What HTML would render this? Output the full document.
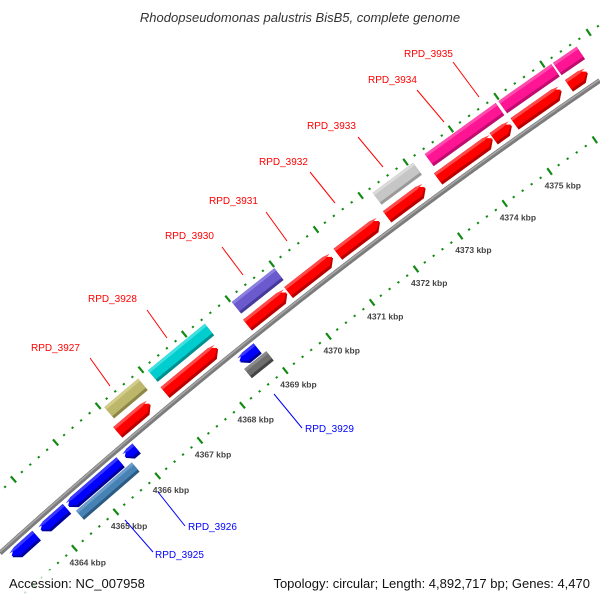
<!DOCTYPE html>
<html><head><meta charset="utf-8">
<style>
html,body{margin:0;padding:0;background:#fff;width:600px;height:600px;overflow:hidden;}
svg{display:block;font-family:"Liberation Sans",sans-serif;overflow:hidden;}
</style></head>
<body>
<svg id="chart" width="600" height="600" viewBox="0 0 600 600">
  <g id="rulers"></g>
  <g id="backbone"></g>
  <g id="features"></g>
  <g id="labels"></g>
  <text x="300" y="22" text-anchor="middle" font-size="13" font-style="italic" fill="#333">Rhodopseudomonas palustris BisB5, complete genome</text>
  <rect x="0" y="570" width="600" height="30" fill="#fff" opacity="0.75"/>
  <text x="9" y="588" font-size="13" fill="#111">Accession: NC_007958</text>
  <text x="590" y="588" font-size="13" fill="#111" text-anchor="end">Topology: circular; Length: 4,892,717 bp; Genes: 4,470</text>
</svg>
<script>
// ---- data ----
const kbpTicks = [4362,4363,4364,4365,4366,4367,4368,4369,4370,4371,4372,4373,4374,4375,4376,4377,4378];
const tickLabels = ["4364 kbp","4365 kbp","4366 kbp","4367 kbp","4368 kbp","4369 kbp","4370 kbp","4371 kbp","4372 kbp","4373 kbp","4374 kbp","4375 kbp"];
const tickLabelPos = [4364,4365,4366,4367,4368,4369,4370,4371,4372,4373,4374,4375];
// forward genes (red)
const fwdStart = [4365.96,4367.07,4368.98,4369.92,4371.04,4372.15,4373.29,4374.52,4374.98,4376.17];
const fwdEnd   = [4366.73,4368.30,4369.89,4370.93,4371.99,4373.01,4374.50,4374.92,4376.01,4376.58];
// reverse genes (blue)
const revStart = [4363.06,4363.76,4364.42,4365.77,4368.46];
const revEnd   = [4363.64,4364.37,4365.65,4366.03,4368.86];
// upper hit track
const hitUpStart = [4366.07,4367.09,4369.02,4372.20,4373.36,4374.98,4376.17];
const hitUpEnd   = [4366.86,4368.40,4369.99,4373.10,4374.92,4376.13,4376.68];
const hitUpColor = ["khaki","cyan","purple","gray","pink","pink","pink"];
// lower hit track
const hitLoStart = [4364.47,4368.44];
const hitLoEnd   = [4365.80,4368.95];
const hitLoColor = ["steel","dark"];

const CX=3758, CY=4705;
const PAL={
  red:["#ff0000","#b80000","#ff4a4a"], blue:["#0000ff","#00009a","#3a3aff"],
  khaki:["#bdb76b","#8c8748","#d2cd8a"], cyan:["#00cdcd","#008f8f","#40e0e0"],
  purple:["#6a5acd","#47399a","#8a7ee0"], gray:["#c6c6c6","#9a9a9a","#dadada"],
  pink:["#ff1493","#c00c6e","#ff4aae"], steel:["#4682b4","#2c5a82","#6c9ccc"],
  dark:["#6e6e6e","#454545","#8a8a8a"]
};
const NS="http://www.w3.org/2000/svg";
function P(k,r){const t=(50.73+(k-4368)*0.569)*Math.PI/180;return [CX-r*Math.cos(t),CY-r*Math.sin(t)];}
function inside(p){return p[0]>=0&&p[0]<=600&&p[1]>=0&&p[1]<=598;}
function mk(tag,attrs,parent){const e=document.createElementNS(NS,tag);for(const a in attrs)e.setAttribute(a,attrs[a]);parent.appendChild(e);return e;}
function shape(k1,k2,rin,rout,dir){
  const h=Math.min(0.13,(k2-k1)*0.45), mid=(rin+rout)/2; let pts;
  if(dir>0) pts=[P(k1,rin),P(k2-h,rin),P(k2,mid),P(k2-h,rout),P(k1,rout)];
  else if(dir<0) pts=[P(k1,mid),P(k1+h,rin),P(k2,rin),P(k2,rout),P(k1+h,rout)];
  else pts=[P(k1,rin),P(k2,rin),P(k2,rout),P(k1,rout)];
  return pts.map(p=>p[0].toFixed(2)+","+p[1].toFixed(2)).join(" ");
}
function feature(g,k1,k2,rin,rout,dir,col,name){
  const c=PAL[col];
  const grp=mk("g",{},g);
  
  
  mk("polygon",{points:shape(k1,k2,rin,rout,dir),fill:c[1]},grp);
  mk("polygon",{points:shape(k1,k2,rin+3,rout,dir),fill:c[0]},grp);
  mk("polygon",{points:shape(k1,k2,rout-3,rout,dir),fill:c[2]},grp);
}

// rulers
const rg=document.getElementById("rulers");
[5554,5646].forEach(function(R){
  for(let i=0;i<kbpTicks.length-1;i++){
    for(let j=0;j<5;j++){
      const k=kbpTicks[i]+j*0.2, major=(j===0);
      const a=P(k,R-(major?4:1)), b=P(k,R+(major?4:1));
      if(!inside(a)||!inside(b)) continue;
      const ln=mk("line",{x1:a[0],y1:a[1],x2:b[0],y2:b[1],stroke:"#138a13","stroke-width":2.2},rg);
      
      
    }
  }
});
tickLabels.forEach(function(t,i){
  const p=P(tickLabelPos[i],5554);
  const tx=mk("text",{x:(p[0]-5).toFixed(1),y:(p[1]+17).toFixed(1),"font-size":"8.5","font-weight":"bold",fill:"#444"},rg);
  tx.textContent=t;
  
  
});

// backbone as polyline clipped to frame
const bb=document.getElementById("backbone");
function arcPts(r){const pts=[];for(let k=4362.5;k<=4377.5;k+=0.02){const p=P(k,r);if(p[0]>=0&&p[0]<=600&&p[1]>=0&&p[1]<=599)pts.push(p[0].toFixed(2)+","+p[1].toFixed(2));}return pts.join(" ");}
const c1=mk("polyline",{points:arcPts(5600),fill:"none",stroke:"#7c7c7c","stroke-width":5},bb);


const c2=mk("polyline",{points:arcPts(5601),fill:"none",stroke:"#a8a8a8","stroke-width":1.5},bb);



// features
const fg=document.getElementById("features");
for(let i=0;i<hitUpStart.length;i++) feature(fg,hitUpStart[i],hitUpEnd[i],5626,5641,0,hitUpColor[i],"hit-upper");
for(let i=0;i<fwdStart.length;i++) feature(fg,fwdStart[i],fwdEnd[i],5606,5620,1,"red","forward-gene");
for(let i=0;i<revStart.length;i++) feature(fg,revStart[i],revEnd[i],5582,5595,-1,"blue","reverse-gene");
for(let i=0;i<hitLoStart.length;i++) feature(fg,hitLoStart[i],hitLoEnd[i],5569,5581,0,hitLoColor[i],"hit-lower");

// gene labels
const labelText=["RPD_3927","RPD_3928","RPD_3930","RPD_3931","RPD_3932","RPD_3933","RPD_3934","RPD_3935","RPD_3929","RPD_3926","RPD_3925"];
const labelTx=[31,88,165,209,259,307,368,404,305,188,155];
const labelTy=[351,302,239,204,165,129,83,57,432,530,558];
const leadA=[[90,358],[147,310],[222,247],[266,212],[310,172],[358,137],[417,90],[453,62],[274,394],[158,492],[125,520]];
const leadB=[[110,386],[167,338],[243,275],[287,241],[335,203],[383,167],[444,122],[479,97],[302,428],[185,526],[153,552]];
const lg=document.getElementById("labels");
labelText.forEach(function(t,i){
  const col=i<8?"#ff0000":"#0000ff";
  const l=mk("line",{x1:leadA[i][0],y1:leadA[i][1],x2:leadB[i][0],y2:leadB[i][1],stroke:col,"stroke-width":1},lg);
  
  
  const tx=mk("text",{x:labelTx[i],y:labelTy[i],"font-size":"10",fill:col},lg);
  tx.textContent=t;
  
  
});
</script>
</body></html>
